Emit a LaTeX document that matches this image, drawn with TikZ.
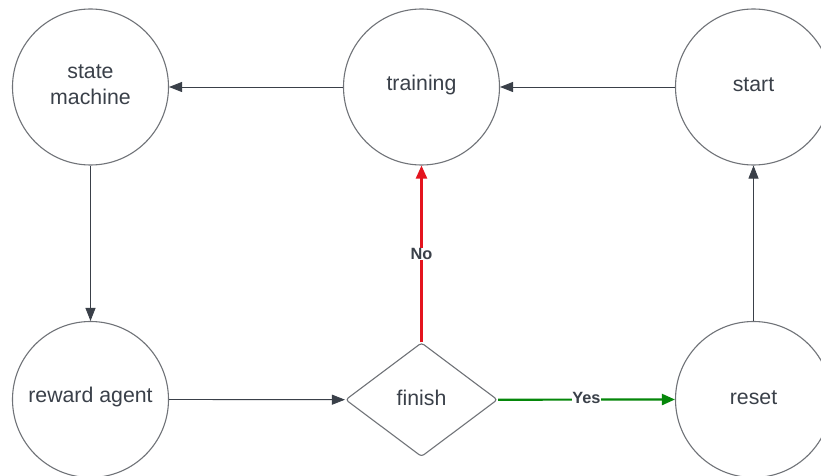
\documentclass[tikz,border=0pt]{standalone}
\usepackage{fontspec}
\setmainfont{Liberation Sans}
\usetikzlibrary{shapes.geometric,arrows.meta}
\definecolor{ink}{RGB}{58,64,73}
\definecolor{rim}{RGB}{112,115,120}
\definecolor{noRed}{RGB}{228,20,30}
\definecolor{yesGreen}{RGB}{5,135,10}
\tikzset{
  nodetext/.style={text=ink, align=center, inner sep=0pt, yshift=2.2bp,
    font=\fontsize{21.3bp}{26bp}\selectfont},
  statecircle/.style={circle, draw=rim, line width=1.1bp, minimum size=156bp,
    inner sep=0pt, label={[nodetext]center:#1}},
  decisionbox/.style={diamond, draw=rim, line width=1.1bp, rounded corners=3bp,
    minimum width=152bp, minimum height=114bp, aspect=1.333, inner sep=0pt,
    label={[nodetext]center:#1}},
  flow/.style={draw=ink, line width=0.9bp,
    -{Triangle[length=13bp,width=10bp]}},
  noflow/.style={draw=noRed, line width=2.2bp,
    -{Triangle[length=13bp,width=11bp]}},
  yesflow/.style={draw=yesGreen, line width=2.2bp,
    -{Triangle[length=13bp,width=11bp]}},
  edgelabel/.style={fill=white, inner sep=0.5bp, text=ink,
    font=\fontsize{16.3bp}{18bp}\selectfont\bfseries},
}
\begin{document}
\begin{tikzpicture}[x=1bp, y=-1bp]
  \useasboundingbox (0,0) rectangle (821,476);
  \fill[white] (0,0) rectangle (821,476);

  \node[statecircle={state\\machine}] (sm)    at (90.5,87)    {};
  \node[statecircle={training}]       (train) at (421.5,87)   {};
  \node[statecircle={start}]          (start) at (753.5,87)   {};
  \node[statecircle={reward agent}]   (agent) at (90.5,399.5) {};
  \node[decisionbox={finish}]         (fin)   at (421.5,399.7) {};
  \node[statecircle={reset}]          (reset) at (753.5,399.5) {};

  \draw[flow] (start.west) -- (train.east);
  \draw[flow] (train.west) -- (sm.east);
  \draw[flow] (sm.south) -- (agent.north);
  \draw[flow] (agent.east) -- (fin.west);
  \draw[flow] (reset.north) -- (start.south);
  \draw[noflow] (fin.north) -- node[edgelabel, pos=0.5] {No} (train.south);
  \draw[yesflow] (fin.east) -- node[edgelabel, pos=0.5, yshift=2bp] {Yes} (reset.west);
\end{tikzpicture}
\end{document}
